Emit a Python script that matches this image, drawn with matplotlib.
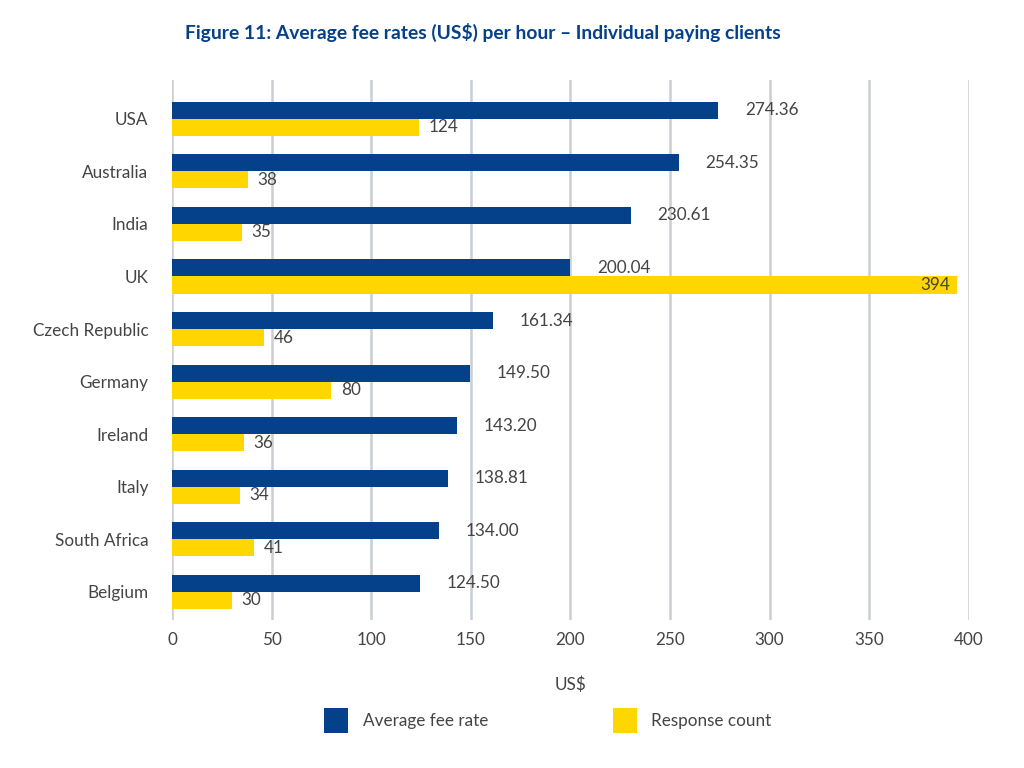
import matplotlib
matplotlib.use("Agg")
import matplotlib.pyplot as plt
import numpy as np
from matplotlib.patches import Patch

countries = ["USA", "Australia", "India", "UK", "Czech Republic", "Germany",
             "Ireland", "Italy", "South Africa", "Belgium"]
avg_fee = [274.36, 254.35, 230.61, 200.04, 161.34, 149.50, 143.20, 138.81, 134.00, 124.50]
resp_count = [124, 38, 35, 394, 46, 80, 36, 34, 41, 30]
xticks = [0, 50, 100, 150, 200, 250, 300, 350, 400]

NAVY = "#05408A"
YELLOW = "#FFD600"
TXT = "#444444"
FS = 12.3

plt.rcParams['font.family'] = ['Lato', 'DejaVu Sans']

fig = plt.figure(figsize=(10.24, 7.68), dpi=100)
ax = fig.add_axes([0.168, 0.193, 0.778, 0.703])

y = np.arange(len(countries))
h = 0.325
ax.barh(y - h/2, avg_fee, height=h, color=NAVY, zorder=3)
ax.barh(y + h/2, resp_count, height=h, color=YELLOW, zorder=3)

for i, v in enumerate(avg_fee):
    ax.annotate(f"{v:.2f}", (v, y[i] - h/2), xytext=(19, 0), textcoords="offset points",
                va="center", ha="left", fontsize=FS, color=TXT)
for i, v in enumerate(resp_count):
    if v > 350:
        ax.annotate(f"{v}", (v, y[i] + h/2), xytext=(-5, 0), textcoords="offset points",
                    va="center", ha="right", fontsize=FS, color=TXT)
    else:
        ax.annotate(f"{v}", (v, y[i] + h/2), xytext=(7, 0), textcoords="offset points",
                    va="center", ha="left", fontsize=FS, color=TXT)

ax.set_xlim(0, 400)
ax.set_ylim(len(countries) - 1 + 0.53, -0.74)
ax.set_xticks(xticks)
ax.set_xticklabels([str(t) for t in xticks])
ax.set_yticks(y)
ax.set_yticklabels(countries)
ax.tick_params(axis='both', length=0, labelsize=FS, colors=TXT)
ax.tick_params(axis='x', pad=9)
ax.tick_params(axis='y', pad=17)
ax.grid(axis='x', color="#cbced3", linewidth=1.8, zorder=0)
for s in ax.spines.values():
    s.set_visible(False)
ax.set_xlabel("US$", fontsize=FS, color=TXT, labelpad=20)

fig.text(0.472, 0.958, "Figure 11: Average fee rates (US$) per hour \u2013 Individual paying clients",
         ha="center", va="center", fontsize=13.9, fontweight="bold", color=NAVY)

handles = [Patch(facecolor=NAVY, label="Average fee rate"),
           Patch(facecolor=YELLOW, label="Response count")]
fig.legend(handles=handles, loc="center", bbox_to_anchor=(0.535, 0.062), ncol=2,
           frameon=False, fontsize=FS, handlelength=1.4, handleheight=1.9,
           handletextpad=0.85, columnspacing=7.3, labelcolor=TXT)

fig.savefig("out.png", dpi=100, facecolor="white")
